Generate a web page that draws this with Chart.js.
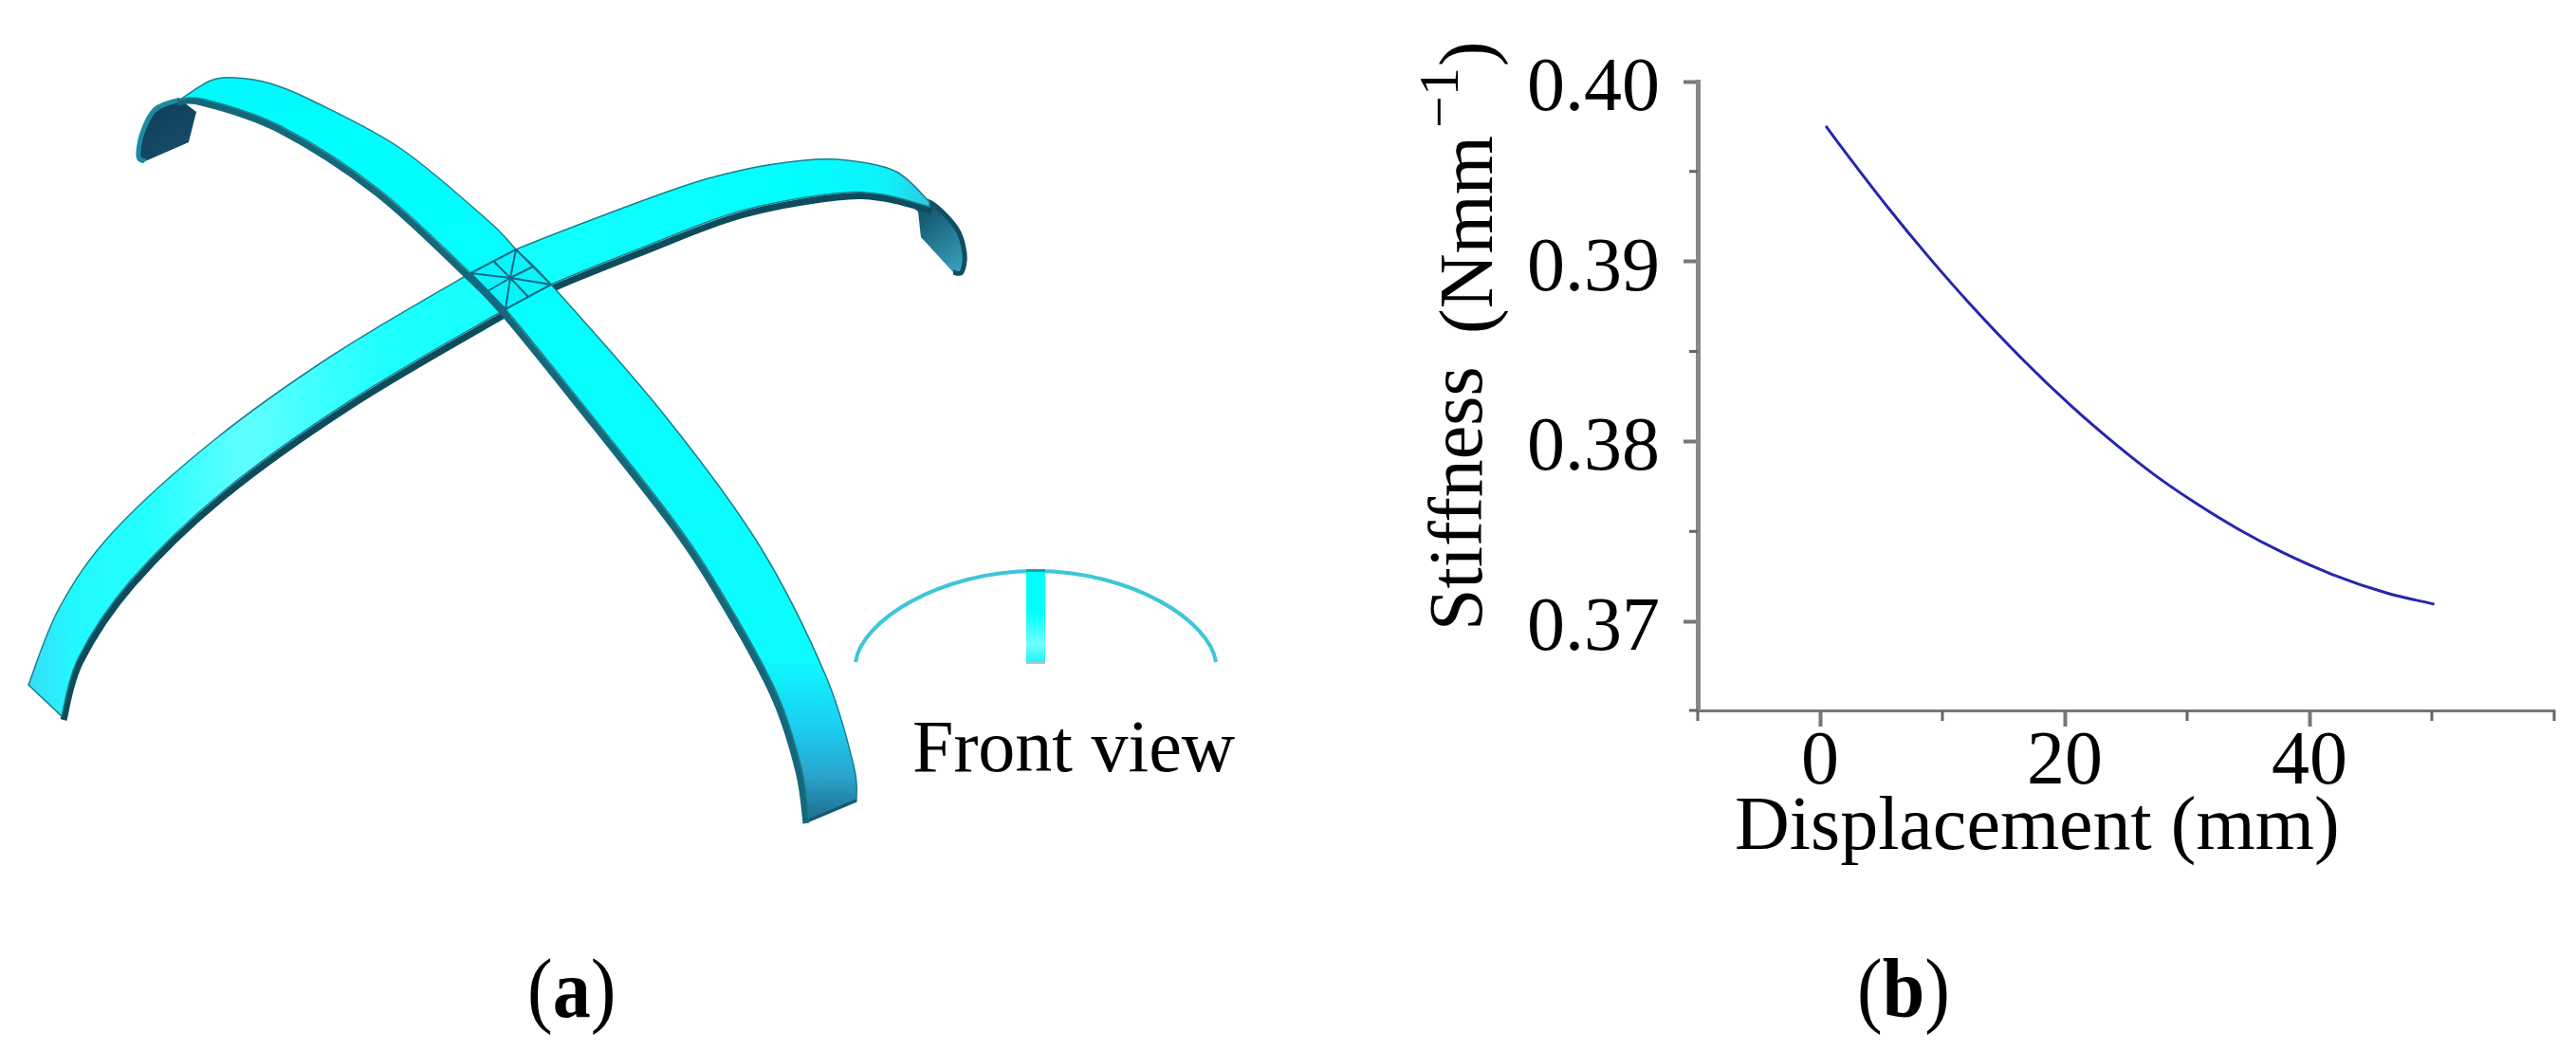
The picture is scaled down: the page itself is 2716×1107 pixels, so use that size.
<!DOCTYPE html>
<html>
<head>
<meta charset="utf-8">
<title>Stiffness</title>
<script src="https://cdn.jsdelivr.net/npm/chart.js@4"></script>
<style>
    html, body { margin: 0; padding: 0; background: #fff; }
    #wrap { position: relative; width: 2716px; height: 1107px; }
</style>
</head>
<body>
<div id="wrap"><canvas id="stiff"></canvas></div>
<script>
// values
var displacement = [0.47, 1.5, 5.5, 8.84, 12.25, 16.6, 20.5, 24.3, 27.2, 30.3, 34.2, 37.8, 41.9, 46.4, 50.2];
var stiffness = [0.39753, 0.39658, 0.39304, 0.39028, 0.38764, 0.38453, 0.38199, 0.37976, 0.37821, 0.37675, 0.37512, 0.37383, 0.37260, 0.37156, 0.37095];
var xTicks = [0, 20, 40];
var xTickLabels = ['0', '20', '40'];
var xMinorTicks = [-10, 10, 30, 50, 60];
var yTicks = [0.37, 0.38, 0.39, 0.40];
var yTickLabels = ['0.37', '0.38', '0.39', '0.40'];
var yMinorTicks = [0.36505, 0.375, 0.385, 0.395];
var xTitle = 'Displacement (mm)';

var serif = '"Liberation Serif", "Times New Roman", serif';
var points = displacement.map(function (d, i) { return { x: d, y: stiffness[i] }; });

// outline of the model in panel (a), page pixels
var band1Outer = [[190, 105], [222, 85], [248, 82], [285, 88], [331, 107], [423, 157], [515, 233], [544, 263], [581, 300], [700, 437], [800, 574], [870, 711], [900, 807], [903, 844]];
var band1Inner = [[853, 865], [845, 810], [820, 733], [770, 640], [713, 552], [607, 417], [533, 326], [496, 288], [400, 200], [296, 133], [216, 105], [190, 105]];
var band2Outer = [[30, 722], [63, 640], [120, 560], [227, 463], [353, 373], [496, 288], [544, 263], [704, 202], [779, 180], [848, 169], [893, 169], [945, 181], [980, 213]];
var band2Inner = [[980, 218], [930, 205], [880, 204], [779, 223], [680, 260], [581, 300], [533, 326], [370, 422], [233, 520], [137, 613], [83, 693], [65, 755]];
var tailLeft = [[190, 105], [164, 115], [150, 140], [146, 165], [153, 170]];
var tailLeftBack = [[199, 150], [207, 118]];
var tailRight = [[957, 214], [980, 213], [1008, 240], [1017, 267], [1014, 287], [1005, 287]];
var tailRightBack = [[971, 250], [968, 223]];
var crossCorners = [[544, 263], [496, 288], [533, 326], [581, 300]];
var crossMids = [[520, 275], [514, 307], [557, 313], [562, 281]];
var crossCentre = [538, 293];

// smooth line through a list of points
function curve(ctx, pts, moveFirst) {
    if (moveFirst) { ctx.moveTo(pts[0][0], pts[0][1]); } else { ctx.lineTo(pts[0][0], pts[0][1]); }
    for (var i = 0; i < pts.length - 1; i++) {
        var p0 = pts[i - 1] || pts[i];
        var p1 = pts[i];
        var p2 = pts[i + 1];
        var p3 = pts[i + 2] || p2;
        ctx.bezierCurveTo(
            p1[0] + (p2[0] - p0[0]) / 6, p1[1] + (p2[1] - p0[1]) / 6,
            p2[0] - (p3[0] - p1[0]) / 6, p2[1] - (p3[1] - p1[1]) / 6,
            p2[0], p2[1]);
    }
}

function shifted(pts, dx, dy) {
    return pts.map(function (p) { return [p[0] + dx, p[1] + dy]; });
}

function drawBand(ctx, outer, inner, fill, dark, dx, dy) {
    // dark underside first
    ctx.beginPath();
    curve(ctx, shifted(inner, dx, dy), true);
    ctx.strokeStyle = dark;
    ctx.lineWidth = 7;
    ctx.stroke();
    ctx.beginPath();
    curve(ctx, outer, true);
    curve(ctx, inner, false);
    ctx.closePath();
    ctx.fillStyle = fill;
    ctx.fill();
    ctx.strokeStyle = '#1c7f8c';
    ctx.lineWidth = 1.5;
    ctx.stroke();
}

function drawTail(ctx, a, b, fill, rim) {
    ctx.beginPath();
    curve(ctx, a, true);
    curve(ctx, b, false);
    ctx.closePath();
    ctx.fillStyle = fill;
    ctx.fill();
    ctx.beginPath();
    curve(ctx, a, true);
    ctx.strokeStyle = rim;
    ctx.lineWidth = 5;
    ctx.stroke();
}

function drawModel(ctx) {
    var g = ctx.createLinearGradient(165, 110, 200, 170);
    g.addColorStop(0, '#0f3f5a');
    g.addColorStop(1, '#174f6e');
    drawTail(ctx, tailLeft, tailLeftBack, g, '#1c8ba0');

    g = ctx.createLinearGradient(965, 220, 1012, 285);
    g.addColorStop(0, '#0f4f68');
    g.addColorStop(1, '#3a9fba');
    drawTail(ctx, tailRight, tailRightBack, g, '#0f4f62');

    g = ctx.createLinearGradient(30, 0, 985, 0);
    g.addColorStop(0, '#38dcfa');
    g.addColorStop(0.05, '#22f8ff');
    g.addColorStop(0.13, '#22ffff');
    g.addColorStop(0.24, '#60ffff');
    g.addColorStop(0.4, '#1cffff');
    g.addColorStop(0.85, '#00ffff');
    g.addColorStop(0.95, '#10f0fa');
    g.addColorStop(1, '#30c4de');
    drawBand(ctx, band2Outer, band2Inner, g, '#0c4c5c', 2, 4);

    g = ctx.createLinearGradient(0, 80, 0, 865);
    g.addColorStop(0, '#00f8fc');
    g.addColorStop(0.08, '#00ffff');
    g.addColorStop(0.78, '#0cfcff');
    g.addColorStop(0.87, '#1ad0f2');
    g.addColorStop(0.94, '#2aa4cc');
    g.addColorStop(1, '#1f6c8c');
    drawBand(ctx, band1Outer, band1Inner, g, '#14687a', -3, 3);

    // end face of the long strip
    ctx.beginPath();
    ctx.moveTo(903, 844);
    ctx.lineTo(853, 865);
    ctx.strokeStyle = '#135a70';
    ctx.lineWidth = 3;
    ctx.stroke();

    // small mesh where the strips cross
    ctx.beginPath();
    ctx.moveTo(crossCorners[0][0], crossCorners[0][1]);
    crossCorners.slice(1).forEach(function (p) { ctx.lineTo(p[0], p[1]); });
    ctx.closePath();
    ctx.fillStyle = '#08f4f8';
    ctx.fill();
    crossCorners.concat(crossMids).forEach(function (p) {
        ctx.moveTo(crossCentre[0], crossCentre[1]);
        ctx.lineTo(p[0], p[1]);
    });
    ctx.strokeStyle = '#0e6a88';
    ctx.lineWidth = 2;
    ctx.stroke();
}

function drawFrontView(ctx) {
    ctx.beginPath();
    ctx.moveTo(902, 698);
    ctx.bezierCurveTo(908, 655, 990, 602, 1092, 602);
    ctx.bezierCurveTo(1194, 602, 1276, 655, 1282, 698);
    ctx.strokeStyle = '#3ec6d8';
    ctx.lineWidth = 4;
    ctx.stroke();

    var g = ctx.createLinearGradient(0, 602, 0, 698);
    g.addColorStop(0, '#00ffff');
    g.addColorStop(0.45, '#00ffff');
    g.addColorStop(0.8, '#70ffff');
    g.addColorStop(1, '#20f4f8');
    ctx.fillStyle = g;
    ctx.fillRect(1082, 602, 20, 97);
    ctx.fillStyle = '#12a8a8';
    ctx.fillRect(1082, 600, 20, 3);
    ctx.fillStyle = '#b0c8c8';
    ctx.fillRect(1082, 698, 20, 2);

    ctx.fillStyle = '#000';
    ctx.textAlign = 'left';
    ctx.textBaseline = 'alphabetic';
    ctx.font = '78px ' + serif;
    ctx.fillText('Front view', 962, 813);
}

// the (a) and (b) labels are a bit narrower than the plain font
function panelLabel(ctx, letter, x) {
    ctx.save();
    ctx.translate(x, 1072);
    ctx.scale(0.91, 1);
    ctx.fillStyle = '#000';
    ctx.textAlign = 'left';
    ctx.textBaseline = 'alphabetic';
    ctx.font = '88px ' + serif;
    ctx.fillText('(', 0, 0);
    var w = ctx.measureText('(').width;
    ctx.font = 'bold 88px ' + serif;
    ctx.fillText(letter, w, 0);
    w += ctx.measureText(letter).width;
    ctx.font = '88px ' + serif;
    ctx.fillText(')', w, 0);
    ctx.restore();
}

// rotated piece of the y title, reads from bottom to top
function upText(ctx, text, baseX, startY, size) {
    ctx.save();
    ctx.translate(baseX, startY);
    ctx.rotate(-Math.PI / 2);
    ctx.font = size + 'px ' + serif;
    ctx.fillStyle = '#000';
    ctx.textAlign = 'left';
    ctx.textBaseline = 'alphabetic';
    ctx.fillText(text, 0, 0);
    ctx.restore();
}

var extras = {
    id: 'extras',
    beforeDraw: function (chart) {
        var ctx = chart.ctx;
        ctx.save();
        ctx.fillStyle = '#fff';
        ctx.fillRect(0, 0, chart.width, chart.height);
        drawModel(ctx);
        drawFrontView(ctx);
        panelLabel(ctx, 'a', 556);
        panelLabel(ctx, 'b', 1958);
        ctx.restore();
    },
    afterDraw: function (chart) {
        var ctx = chart.ctx;
        var xs = chart.scales.x;
        var ys = chart.scales.y;
        ctx.save();
        // shorter in-between ticks
        ctx.strokeStyle = '#666';
        ctx.lineWidth = 3;
        ctx.beginPath();
        xMinorTicks.forEach(function (v) {
            var px = xs.getPixelForValue(v);
            ctx.moveTo(px, chart.chartArea.bottom);
            ctx.lineTo(px, chart.chartArea.bottom + 11);
        });
        yMinorTicks.forEach(function (v) {
            var py = ys.getPixelForValue(v);
            ctx.moveTo(chart.chartArea.left, py);
            ctx.lineTo(chart.chartArea.left - 9, py);
        });
        ctx.stroke();

        ctx.fillStyle = '#000';
        ctx.font = '80px ' + serif;
        ctx.textAlign = 'left';
        ctx.textBaseline = 'alphabetic';
        ctx.fillText(xTitle, 1829, 895);

        upText(ctx, 'Stiffness', 1562, 665, 80);
        upText(ctx, '(Nmm', 1573, 352, 80);
        upText(ctx, '\u22121', 1537, 135, 60);
        upText(ctx, ')', 1573, 70, 80);
        ctx.restore();
    }
};

var ctx = document.getElementById('stiff').getContext('2d');
var stiffChart = new Chart(ctx, {
    type: 'line',
    data: {
        datasets: [{
            data: points,
            borderColor: '#2626ac',
            borderWidth: 3,
            pointRadius: 0,
            cubicInterpolationMode: 'monotone',
            fill: false
        }]
    },
    options: {
        responsive: true,
        maintainAspectRatio: false,
        animation: false,
        events: [],
        layout: { padding: { left: 1600, top: 86, right: 23, bottom: 258 } },
        plugins: { legend: { display: false }, tooltip: { enabled: false }, title: { display: false } },
        scales: {
            x: {
                type: 'linear',
                min: -10,
                max: 60,
                afterBuildTicks: function (scale) {
                    scale.ticks = xTicks.map(function (v) { return { value: v }; });
                },
                afterFit: function (scale) { scale.height = 100; },
                border: { color: '#777', width: 3 },
                grid: { drawOnChartArea: false, tickColor: '#777', tickWidth: 4, tickLength: 17 },
                ticks: {
                    autoSkip: false,
                    maxRotation: 0,
                    padding: -9,
                    color: '#000',
                    font: { family: serif, size: 80 },
                    callback: function (value, i) { return xTickLabels[i]; }
                }
            },
            y: {
                min: yMinorTicks[0],
                max: 0.40,
                afterBuildTicks: function (scale) {
                    scale.ticks = yTicks.map(function (v) { return { value: v }; });
                },
                afterFit: function (scale) { scale.width = 190; },
                border: { color: '#888', width: 5 },
                grid: { drawOnChartArea: false, tickColor: '#777', tickWidth: 4, tickLength: 15 },
                ticks: {
                    autoSkip: false,
                    padding: 25,
                    labelOffset: 9,
                    color: '#000',
                    font: { family: serif, size: 80 },
                    callback: function (value, i) { return yTickLabels[i]; }
                }
            }
        }
    },
    plugins: [extras]
});
</script>
</body>
</html>
